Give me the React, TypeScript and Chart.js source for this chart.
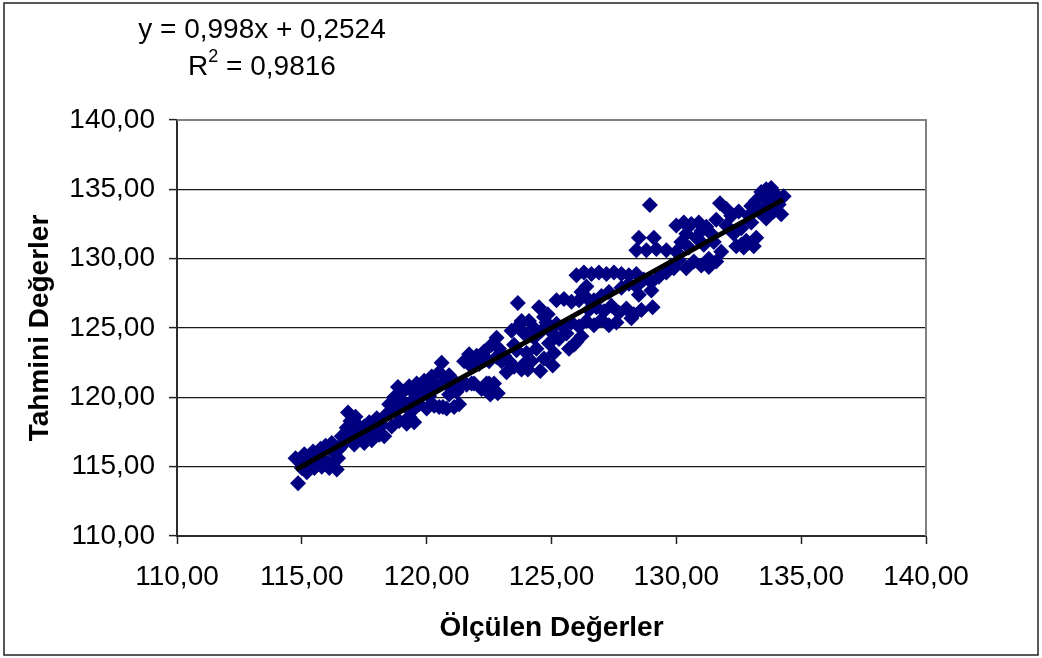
import React, { useEffect, useRef } from "react";
import { Chart, registerables } from "chart.js";

Chart.register(...registerables);

// Measured values (x) and model predictions (y), one entry per sample.
const measured: number[] = [
  114.75, 114.85, 115.0, 115.1, 115.2, 115.35, 115.45, 115.5, 115.65, 115.75, 115.8, 115.95, 116.05, 116.1, 116.2, 116.3, 116.4, 116.45,
  115.0, 115.3, 115.6, 115.9, 116.2,
  116.5, 116.6, 116.7, 116.8, 116.85, 116.95, 117.0, 117.1, 117.15, 117.3, 117.4, 117.5, 117.6, 117.7, 117.8, 117.9, 118.0, 118.1, 118.2, 118.3,
  116.6, 116.9, 117.2, 117.5, 117.8, 118.1,
  118.4, 118.5, 118.6, 118.7, 118.8, 118.85, 118.9, 119.0, 119.1, 119.2, 119.3, 119.4, 119.5, 119.55, 119.6, 119.7,
  118.6, 118.9, 119.2, 119.5, 119.3,
  119.8, 119.9, 120.0, 120.1, 120.2, 120.3, 120.4, 120.5, 120.6, 120.65, 120.7, 120.8, 120.9, 121.0, 121.1, 121.2, 121.3, 121.4,
  120.0, 120.3, 120.5, 120.9, 121.2,
  121.5, 121.6, 121.7, 121.8, 121.9, 122.0, 122.1, 122.2, 122.3, 122.4, 122.5, 122.55, 122.6, 122.7, 122.8, 122.85, 122.9, 123.0,
  121.8, 122.2, 122.5, 122.8, 121.7,
  123.1, 123.2, 123.3, 123.4, 123.5, 123.6, 123.65, 123.7, 123.8, 123.9, 124.0, 124.05, 124.1, 124.2, 124.3, 124.4, 124.5, 124.55, 124.6, 124.7, 124.8, 124.85, 124.9, 125.0, 125.05, 125.1,
  123.5, 123.9, 124.3, 124.7, 123.8,
  125.2, 125.5, 125.8, 126.1, 126.4, 126.7, 127.0, 127.3,
  126.0, 126.3, 126.6, 126.9, 127.2, 127.5, 127.8, 128.1, 128.4, 126.4, 126.2,
  127.8, 128.1, 128.4, 128.7, 129.0, 129.3, 129.6, 129.9, 128.5, 129.0,
  126.5, 126.8, 127.1, 127.4, 127.7, 128.0, 128.3, 128.6, 129.05, 128.2,
  125.2, 125.5, 125.8, 126.1, 126.4, 126.7, 127.0, 127.3, 127.6,
  125.3, 125.6, 125.9, 126.2, 125.7, 126.0,
  128.94, 128.5, 129.1, 128.4, 128.8, 129.2, 129.6, 130.0,
  130.0, 130.3, 130.6, 130.9, 131.2,
  129.8, 130.1, 130.4, 130.7, 131.0, 131.3, 131.6, 131.8,
  130.2, 130.5, 130.8, 131.1, 131.4, 131.6, 131.5,
  130.4, 131.0, 131.3,
  131.75, 132.0, 132.2, 132.0, 132.3, 132.5, 132.6, 132.8, 132.4, 132.9, 133.0, 133.2, 133.3, 132.7, 133.1,
  133.0, 132.6,
  133.2, 133.4, 133.5, 133.6, 133.7, 133.8, 133.9, 134.0, 134.1, 134.2, 134.3, 133.6,
];

const predicted: number[] = [
  115.6, 113.8, 115.2, 115.9, 114.6, 115.5, 116.1, 114.9, 115.7, 116.3, 115.0, 116.5, 115.3, 114.9, 116.7, 116.0, 114.8, 115.6,
  114.9, 115.2, 116.0, 115.4, 115.2,
  116.3, 117.2, 116.8, 117.8, 118.9, 118.3, 117.5, 116.6, 118.6, 117.9, 117.0, 116.7, 117.6, 118.2, 116.9, 117.7, 118.5, 117.3, 118.0, 117.2,
  116.5, 117.0, 117.4, 117.9, 117.5, 118.0,
  118.8, 119.5, 117.9, 120.0, 119.2, 120.75, 118.3, 120.3, 119.6, 118.1, 120.8, 119.0, 118.2, 120.2, 121.0, 119.5,
  119.0, 119.8, 119.3, 119.9, 118.6,
  120.6, 121.2, 119.2, 120.1, 121.5, 119.4, 120.8, 121.8, 122.5, 119.3, 121.1, 119.2, 121.6, 120.6, 119.3, 121.0, 119.5, 120.9,
  120.5, 121.0, 119.3, 120.2, 120.4,
  122.6, 120.9, 123.1, 122.2, 121.0, 123.0, 122.4, 120.6, 123.3, 121.0, 122.6, 120.2, 123.8, 121.0, 124.3, 120.3, 123.5, 122.6,
  121.0, 122.8, 121.0, 122.9, 122.5,
  123.0, 121.8, 122.6, 124.8, 122.2, 123.4, 126.8, 125.2, 122.0, 124.6, 123.2, 122.0, 125.5, 122.6, 125.0, 123.5, 126.5, 121.9, 124.8, 122.8, 125.4, 126.0, 123.9, 124.7, 122.3, 123.2,
  123.8, 122.4, 124.3, 125.8, 125.5,
  127.0, 127.1, 126.9, 127.0, 127.2, 127.0, 127.3, 127.6,
  128.8, 129.0, 128.9, 129.0, 128.9, 129.0, 128.9, 128.8, 128.9, 128.0, 127.6,
  127.9, 128.2, 128.0, 128.5, 128.3, 128.7, 129.0, 129.3, 127.4, 127.7,
  126.3, 126.5, 126.2, 126.6, 126.1, 126.4, 126.0, 126.3, 126.5, 125.7,
  125.3, 125.0, 125.4, 125.1, 125.5, 125.2, 125.6, 125.2, 125.4,
  124.2, 124.6, 123.8, 124.4, 123.5, 124.0,
  133.87, 131.5, 131.5, 130.6, 130.6, 130.7, 130.6, 130.5,
  132.4, 132.6, 132.5, 132.6, 132.3,
  129.5, 129.9, 129.3, 129.8, 129.5, 130.0, 129.8, 130.5,
  131.2, 130.8, 131.5, 131.0, 131.8, 132.8, 131.2,
  131.8, 132.0, 129.4,
  134.0, 133.6, 133.1, 132.4, 131.8, 133.4, 132.2, 131.3, 130.9, 133.1, 132.6, 131.5, 133.4, 130.8, 130.9,
  133.8, 131.0,
  134.2, 134.8, 133.6, 135.0, 134.3, 135.1, 133.4, 134.6, 133.9, 133.2, 134.5, 132.9,
];

// Linear fit shown in the equation label.
const fitSlope = 0.998;
const fitIntercept = 0.2524;
const fitRSquared = "0,9816";
const fitRange: number[] = [114.77, 134.27];

const axisTicks: number[] = [110, 115, 120, 125, 130, 135, 140];
const xTitle = "Ölçülen Değerler";
const yTitle = "Tahmini Değerler";

const FONT = "'Liberation Sans', Arial, sans-serif";

const fmt = (v: number) => v.toFixed(2).replace(".", ",");

export default function App() {
  const canvasRef = useRef<HTMLCanvasElement | null>(null);

  useEffect(() => {
    const canvas = canvasRef.current;
    if (!canvas) return;

    const points = measured.map((x, i) => ({ x, y: predicted[i] }));
    const fitLine = fitRange.map((x) => ({ x, y: fitSlope * x + fitIntercept }));

    const decorations = {
      id: "decorations",
      beforeDatasetsDraw(chart: any) {
        const { ctx, chartArea } = chart;
        ctx.save();
        ctx.strokeStyle = "#808080";
        ctx.lineWidth = 2;
        ctx.beginPath();
        ctx.moveTo(chartArea.left, chartArea.top);
        ctx.lineTo(chartArea.right, chartArea.top);
        ctx.lineTo(chartArea.right, chartArea.bottom);
        ctx.stroke();
        ctx.restore();
      },
      afterDraw(chart: any) {
        const { ctx } = chart;
        ctx.save();
        // outer frame
        ctx.strokeStyle = "#222";
        ctx.lineWidth = 1.5;
        ctx.strokeRect(4, 3, 1034, 652);

        // regression equation
        ctx.fillStyle = "#000";
        ctx.textBaseline = "alphabetic";
        ctx.font = `28px ${FONT}`;
        ctx.textAlign = "center";
        const eq = `y = ${String(fitSlope).replace(".", ",")}x + ${String(fitIntercept).replace(".", ",")}`;
        ctx.fillText(eq, 262, 38);

        ctx.textAlign = "left";
        const big = `28px ${FONT}`;
        const small = `18px ${FONT}`;
        ctx.font = big;
        const wR = ctx.measureText("R").width;
        const rest = ` = ${fitRSquared}`;
        const wRest = ctx.measureText(rest).width;
        ctx.font = small;
        const w2 = ctx.measureText("2").width;
        const total = wR + w2 + wRest;
        const x0 = 262 - total / 2;
        ctx.font = big;
        ctx.fillText("R", x0, 75);
        ctx.font = small;
        ctx.fillText("2", x0 + wR, 62);
        ctx.font = big;
        ctx.fillText(rest, x0 + wR + w2, 75);
        ctx.restore();
      },
    };

    const chart = new Chart(canvas, {
      type: "scatter",
      data: {
        datasets: [
          {
            type: "line",
            data: fitLine,
            borderColor: "#000",
            borderWidth: 5,
            pointRadius: 0,
            showLine: true,
            fill: false,
            order: 0,
          } as any,
          {
            data: points,
            pointStyle: "rectRot",
            pointRadius: 8,
            pointBorderWidth: 0,
            backgroundColor: "#000080",
            borderColor: "#000080",
            order: 1,
          },
        ],
      },
      options: {
        animation: false,
        responsive: false,
        devicePixelRatio: 1,
        layout: { padding: { left: 0, top: 120, right: 116, bottom: 0 } },
        plugins: {
          legend: { display: false },
          tooltip: { enabled: false },
        },
        scales: {
          x: {
            type: "linear",
            min: 110,
            max: 140,
            afterBuildTicks: (scale: any) => {
              scale.ticks = axisTicks.map((value) => ({ value }));
            },
            afterFit: (scale: any) => {
              scale.height = 122;
            },
            ticks: {
              callback: (v: any) => fmt(Number(v)),
              color: "#000",
              font: { family: FONT, size: 28 },
              padding: 16,
              maxRotation: 0,
              autoSkip: false,
            },
            grid: {
              drawOnChartArea: false,
              drawTicks: true,
              tickLength: 8,
              tickColor: "#222",
              tickWidth: 1.5,
            },
            border: { display: true, color: "#2b2b2b", width: 2 },
            title: {
              display: true,
              text: xTitle,
              color: "#000",
              font: { family: FONT, size: 28, weight: "bold" },
              padding: { top: 0, bottom: 13 },
            },
          },
          y: {
            type: "linear",
            min: 110,
            max: 140,
            afterBuildTicks: (scale: any) => {
              scale.ticks = axisTicks.map((value) => ({ value }));
            },
            afterFit: (scale: any) => {
              scale.width = 177;
            },
            ticks: {
              callback: (v: any) => fmt(Number(v)),
              color: "#000",
              font: { family: FONT, size: 28 },
              padding: 14,
              autoSkip: false,
            },
            grid: {
              drawOnChartArea: true,
              drawTicks: true,
              tickLength: 8,
              color: (c: any) => (c.tick && (c.tick.value === 140 || c.tick.value === 110) ? "rgba(0,0,0,0)" : "#1a1a1a"),
              lineWidth: 1.2,
              tickColor: "#222",
              tickWidth: 1.5,
            },
            border: { display: true, color: "#2b2b2b", width: 2 },
            title: {
              display: true,
              text: yTitle,
              color: "#000",
              font: { family: FONT, size: 28, weight: "bold" },
              padding: { top: 23, bottom: 0 },
            },
          },
        },
      },
      plugins: [decorations],
    });

    return () => chart.destroy();
  }, []);

  return (
    <div style={{ position: "absolute", left: 0, top: 0, width: 1042, height: 658, background: "#fff" }}>
      <canvas ref={canvasRef} width={1042} height={658} style={{ display: "block" }} />
    </div>
  );
}
